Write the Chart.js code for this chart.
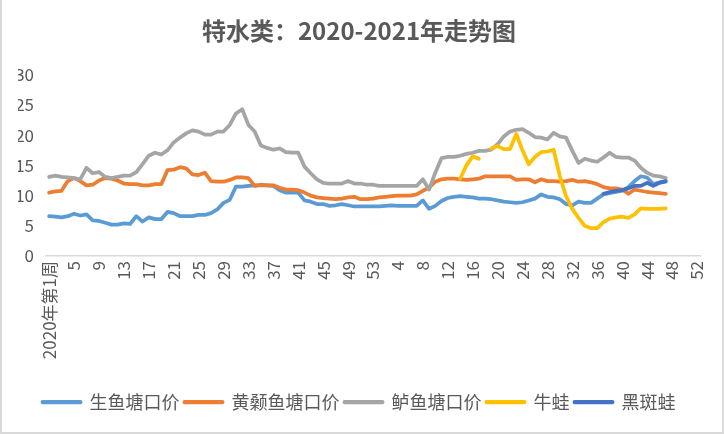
<!DOCTYPE html>
<html>
<head>
<meta charset="utf-8">
<script src="https://cdn.jsdelivr.net/npm/chart.js@4.4.0/dist/chart.umd.min.js"></script>
<style>
  body { margin: 0; background: #fff; }
  #wrap { position: relative; width: 724px; height: 434px; }
  #frame { position: absolute; left: 0; top: 0; width: 724px; height: 434px; box-sizing: border-box;
           border: 2px solid #d9d9d9; border-top: none; pointer-events: none; }
</style>
</head>
<body>
<div id="wrap">
  <canvas id="chart" width="724" height="434"></canvas>
  <div id="frame"></div>
</div>
<script>
// week categories: 2020 has 53 weeks, 2021 runs to week 52
const weeks2020 = 53;
const weeks2021 = 52;

const seriesNames = ['生鱼塘口价', '黄颡鱼塘口价', '鲈鱼塘口价', '牛蛙', '黑斑蛙'];
const seriesColors = ['#5B9BD5', '#ED7D31', '#A5A5A5', '#FFC000', '#4472C4'];

const shengyu = [
  6.6, 6.5, 6.4, 6.6, 7.0, 6.7, 6.9, 5.9, 5.8, 5.5,
  5.2, 5.2, 5.4, 5.3, 6.6, 5.7, 6.4, 6.1, 6.1, 7.3,
  7.1, 6.6, 6.6, 6.6, 6.8, 6.8, 7.1, 7.7, 8.8, 9.3,
  11.5, 11.5, 11.6, 11.7, 11.7, 11.7, 11.6, 10.9, 10.5, 10.5,
  10.5, 9.2, 9.0, 8.6, 8.6, 8.3, 8.4, 8.6, 8.4, 8.2,
  8.2, 8.2, 8.2, 8.2, 8.3, 8.4, 8.3, 8.3, 8.3, 8.3,
  9.2, 7.8, 8.3, 9.1, 9.6, 9.8, 9.9, 9.8, 9.7, 9.5,
  9.5, 9.4, 9.2, 9.0, 8.9, 8.8, 8.9, 9.2, 9.5, 10.2,
  9.8, 9.7, 9.4, 8.6, 8.4, 9.0, 8.8, 8.8, 9.5, 10.2,
  10.4, 10.6, 10.8, 11.4, 12.4, 13.2, 13.0, 11.9, 12.2, 12.3
];

const huangsang = [
  10.5, 10.7, 10.8, 12.4, 12.9, 12.4, 11.7, 11.8, 12.5, 12.9,
  12.8, 12.5, 12.0, 11.9, 11.9, 11.7, 11.7, 11.9, 11.9, 14.2,
  14.3, 14.7, 14.5, 13.5, 13.4, 13.8, 12.4, 12.3, 12.3, 12.6,
  13.0, 13.0, 12.9, 11.6, 11.8, 11.7, 11.7, 11.3, 11.0, 11.0,
  10.9, 10.5, 10.0, 9.7, 9.6, 9.5, 9.4, 9.5, 9.7, 9.8,
  9.4, 9.4, 9.5, 9.7, 9.8, 9.9, 10.0, 10.0, 10.0, 10.2,
  10.8, 11.3, 12.3, 12.7, 12.8, 12.8, 12.7, 12.6, 12.7, 12.8,
  13.2, 13.2, 13.2, 13.2, 13.2, 12.6, 12.7, 12.7, 12.2, 12.7,
  12.4, 12.4, 12.3, 12.4, 12.6, 12.3, 12.4, 12.2, 11.9, 11.4,
  11.2, 11.2, 11.0, 10.3, 11.0, 10.8, 10.6, 10.5, 10.4, 10.3
];

const luyu = [
  13.1, 13.3, 13.1, 13.0, 12.9, 12.7, 14.6, 13.7, 13.9, 13.1,
  12.9, 13.1, 13.3, 13.3, 13.9, 15.2, 16.6, 17.1, 16.8, 17.5,
  18.8, 19.6, 20.3, 20.8, 20.6, 20.1, 20.1, 20.6, 20.6, 21.7,
  23.6, 24.3, 21.7, 20.6, 18.3, 17.9, 17.6, 17.8, 17.2, 17.1,
  17.1, 14.8, 13.7, 12.7, 12.1, 12.0, 12.0, 12.0, 12.4, 12.0,
  12.0, 11.8, 11.8, 11.6, 11.6, 11.6, 11.6, 11.6, 11.6, 11.6,
  12.7, 11.0, 13.8, 16.2, 16.4, 16.4, 16.6, 16.9, 17.1, 17.4,
  17.4, 17.6, 18.5, 19.8, 20.6, 20.9, 21.0, 20.4, 19.7, 19.6,
  19.3, 20.4, 19.8, 19.6, 17.4, 15.4, 16.1, 15.8, 15.6, 16.3,
  17.1, 16.4, 16.3, 16.3, 15.8, 14.6, 13.8, 13.3, 13.2, 12.9
];

// 牛蛙 starts at 2021 week 14, one missing week (18)
const niuwa = [
  12.8, 15.0, 16.5, 16.1, null, 17.8, 18.2, 17.7, 17.7, 20.2,
  17.5, 15.2, 16.4, 17.2, 17.3, 17.6, 13.2, 9.9, 7.8, 6.3,
  5.0, 4.6, 4.6, 5.6, 6.2, 6.4, 6.5, 6.3, 6.9, 7.9,
  7.8, 7.8, 7.8, 7.9
];
const niuwaStart = 66;

// 黑斑蛙 starts at 2021 week 37
const heibanwa = [10.3, 10.6, 10.8, 10.9, 11.2, 11.6, 11.6, 12.1, 11.6, 12.1, 12.4];
const heibanwaStart = 89;

const categories = [];
for (let w = 1; w <= weeks2020; w++) categories.push(w === 1 ? '2020年第1周' : String(w));
for (let w = 1; w <= weeks2021; w++) categories.push(w === 1 ? '2021年第1周' : String(w));

function padTo(start, values) {
  return new Array(start).fill(null).concat(values);
}

const seriesData = [shengyu, huangsang, luyu, padTo(niuwaStart, niuwa), padTo(heibanwaStart, heibanwa)];

const textColor = '#595959';
const fontFamily = '"Noto Sans CJK SC", "Noto Sans", sans-serif';

const datasets = seriesNames.map((name, i) => ({
  label: name,
  data: seriesData[i],
  borderColor: seriesColors[i],
  backgroundColor: seriesColors[i],
  borderWidth: 3.75,
  pointRadius: 0,
  pointHoverRadius: 0,
  tension: 0,
  spanGaps: false,
  borderCapStyle: 'round',
  borderJoinStyle: 'round',
  // later series sit on top, like the spreadsheet
  order: seriesNames.length - i
}));

new Chart(document.getElementById('chart'), {
  type: 'line',
  data: { labels: categories, datasets: datasets },
  options: {
    responsive: false,
    animation: false,
    layout: { padding: { left: 18, right: 24, top: 12, bottom: 13 } },
    plugins: {
      title: {
        display: true,
        text: '特水类：2020-2021年走势图',
        color: textColor,
        font: { family: fontFamily, size: 24, weight: 'bold' },
        padding: { top: 4, bottom: 30 }
      },
      legend: {
        position: 'bottom',
        labels: {
          color: textColor,
          font: { family: fontFamily, size: 18 },
          boxWidth: 38,
          boxHeight: 0.5,
          padding: 5,
          sort: (a, b) => a.datasetIndex - b.datasetIndex
        }
      },
      tooltip: { enabled: false }
    },
    scales: {
      x: {
        offset: true,
        grid: { display: false, drawTicks: false },
        border: { display: true, color: '#d9d9d9', width: 1.5 },
        ticks: {
          autoSkip: false,
          maxRotation: 90,
          minRotation: 90,
          padding: 5,
          color: textColor,
          font: { family: fontFamily, size: 17 },
          callback: function (val, index) {
            return index % 4 === 0 ? this.getLabelForValue(val) : '';
          }
        },
        afterFit: (scale) => { scale.height = 132; }
      },
      y: {
        min: 0,
        max: 30,
        grid: { display: false, drawTicks: false },
        border: { display: false },
        ticks: {
          stepSize: 5,
          padding: 12,
          color: textColor,
          font: { family: fontFamily, size: 17 }
        },
        afterFit: (scale) => { scale.width = 28; }
      }
    }
  }
});
</script>
</body>
</html>
